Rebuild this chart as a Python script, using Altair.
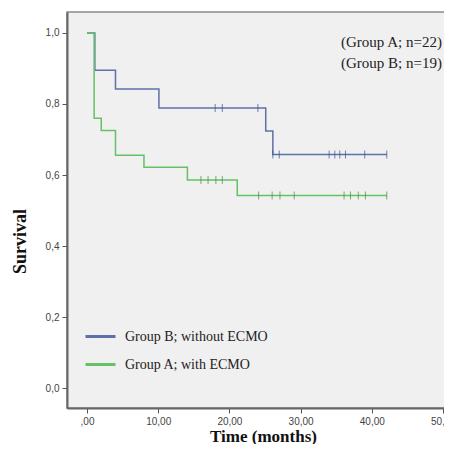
import altair as alt
import pandas as pd

# Kaplan-Meier steps
b_time = [0.0, 1.1, 4.0, 10.1, 25.1, 26.1, 42.1]
b_surv = [1.0, 0.895, 0.842, 0.789, 0.724, 0.658, 0.658]
b_cens_time = [18.0, 19.0, 24.0, 26.1, 27.0, 34.0, 34.8, 35.5, 36.3, 39.0, 42.1]
b_cens_surv = [0.789, 0.789, 0.789, 0.658, 0.658, 0.658, 0.658, 0.658, 0.658, 0.658, 0.658]

a_time = [0.0, 1.0, 2.0, 4.0, 8.0, 14.1, 21.1, 42.1]
a_surv = [1.0, 0.76, 0.725, 0.656, 0.622, 0.586, 0.542, 0.542]
a_cens_time = [16.0, 17.0, 18.1, 19.0, 24.1, 26.0, 27.1, 29.1, 36.1, 37.0, 38.1, 39.1, 42.1]
a_cens_surv = [0.586, 0.586, 0.586, 0.586, 0.542, 0.542, 0.542, 0.542, 0.542, 0.542, 0.542, 0.542, 0.542]

groups = ["Group B; without ECMO", "Group A; with ECMO"]
colors = ["#5d70aa", "#66c066"]
cens_colors = ["#3f4f8f", "#3d8f3d"]
notes = ["(Group A; n=22)", "(Group B; n=19)"]
x_ticks = [0, 10, 20, 30, 40, 50]
y_ticks = [0.0, 0.2, 0.4, 0.6, 0.8, 1.0]

steps = pd.concat([
    pd.DataFrame({"t": b_time, "s": b_surv, "g": groups[0], "o": 0}),
    pd.DataFrame({"t": a_time, "s": a_surv, "g": groups[1], "o": 1}),
])
cens = pd.concat([
    pd.DataFrame({"t": b_cens_time, "s": b_cens_surv, "g": groups[0]}),
    pd.DataFrame({"t": a_cens_time, "s": a_cens_surv, "g": groups[1]}),
])
note_df = pd.DataFrame({"txt": notes, "row": [0, 1]})

xs = alt.Scale(domain=[-2.81, 51.26], nice=False, zero=False)
ys = alt.Scale(domain=[-0.056, 1.059], nice=False, zero=False)

x_axis = alt.Axis(values=x_ticks, grid=False, title="Time (months)",
                  labelExpr="datum.value == 0 ? ',00' : replace(format(datum.value, '.2f'), '.', ',')",
                  titleFont="Liberation Serif", titleFontSize=17, titleFontWeight="bold",
                  titleColor="#111", titleX=196, titleY=33, titleBaseline="alphabetic",
                  labelFont="Liberation Sans", labelFontSize=10, labelColor="#444",
                  tickColor="#555", tickSize=5, domainColor="#666", domainWidth=2, labelPadding=3)
y_axis = alt.Axis(values=y_ticks, grid=False, title="Survival",
                  labelExpr="replace(format(datum.value, '.1f'), '.', ',')",
                  titleFont="Liberation Serif", titleFontSize=18, titleFontWeight="bold",
                  titleColor="#111", titleX=-38, titleY=229,
                  labelFont="Liberation Sans", labelFontSize=10, labelColor="#444",
                  tickColor="#555", tickSize=5, domainColor="#666", domainWidth=2, labelPadding=3)

color_scale = alt.Scale(domain=groups, range=colors)

lines = alt.Chart(steps).mark_line(interpolate="step-after", strokeWidth=1.5).encode(
    x=alt.X("t:Q", scale=xs, axis=x_axis),
    y=alt.Y("s:Q", scale=ys, axis=y_axis),
    color=alt.Color("g:N", scale=color_scale, sort=groups,
                    legend=alt.Legend(title=None, orient="none", legendX=17, legendY=308,
                                      symbolType="stroke", symbolSize=900, symbolStrokeWidth=3,
                                      labelFont="Liberation Serif", labelFontSize=14,
                                      labelColor="#222", rowPadding=4, labelOffset=8)),
    order="o:Q",
    detail="g:N",
)

ticks = alt.Chart(cens).mark_tick(orient="vertical", size=8, thickness=1).encode(
    x=alt.X("t:Q", scale=xs),
    y=alt.Y("s:Q", scale=ys, axis=None),
    color=alt.Color("g:N", scale=alt.Scale(domain=groups, range=cens_colors), legend=None),
)

note = alt.Chart(note_df).mark_text(align="right", baseline="middle", font="Liberation Serif",
                                     fontSize=15, color="#222").encode(
    x=alt.value(375),
    y=alt.Y("row:Q", scale=alt.Scale(domain=[0, 1], range=[30, 51]), axis=None),
    text="txt:N",
)

chart = alt.layer(lines, ticks, note).resolve_scale(color="independent", y="independent").properties(
    width=385, height=396,
    autosize=alt.AutoSizeParams(type="none"),
    padding={"left": 59, "top": 4, "right": -8, "bottom": 36},
    background="white",
).configure_view(fill="#f0f0f0", stroke="#8a8a8a", strokeWidth=1.5)

chart.save("out.html", embed_options={"renderer": "svg", "actions": False})
